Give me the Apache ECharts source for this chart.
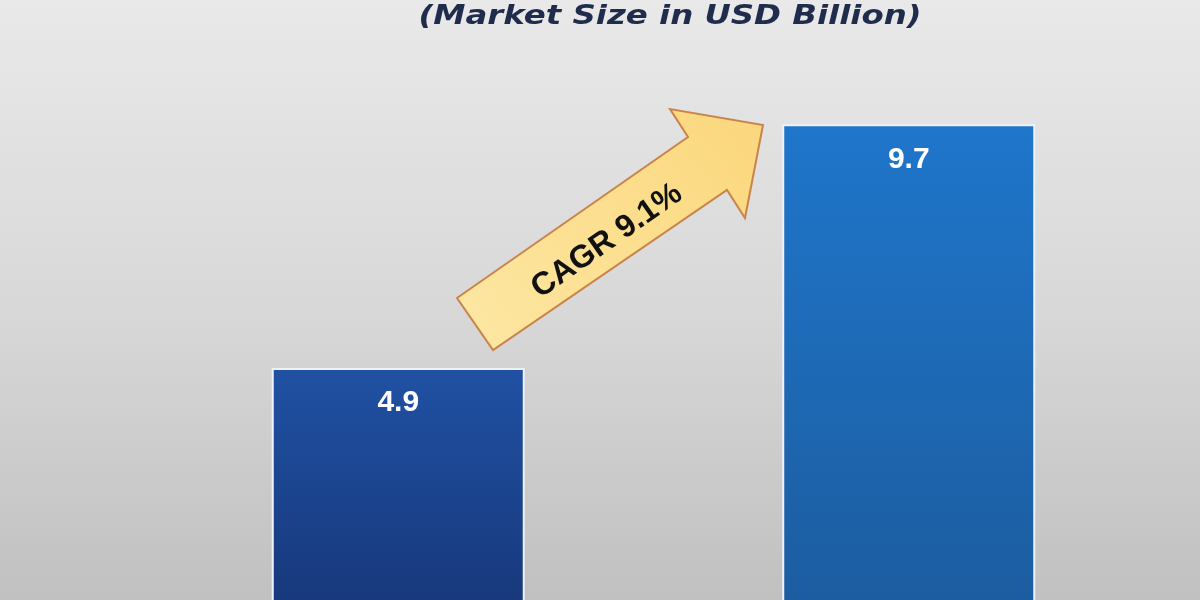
<!DOCTYPE html>
<html>
<head>
<meta charset="utf-8">
<script src="https://cdn.jsdelivr.net/npm/echarts@6/dist/echarts.min.js"></script>
<style>
html,body{margin:0;padding:0;overflow:hidden;}
#chart{width:1200px;height:617px;}
</style>
</head>
<body>
<div id="chart"></div>
<script>
const categories = ['2023', '2032'];
const values = [4.9, 9.7];
const titleText = '(Market Size in USD Billion)';
const cagrText = 'CAGR 9.1%';

const barGradients = [
  ['#2051a3', '#17377a'],
  ['#1f76cb', '#1c5c9f']
];

const chart = echarts.init(document.getElementById('chart'));
const option = {
  animation: false,
  backgroundColor: {
    type: 'linear', x: 0, y: 0, x2: 0, y2: 1,
    colorStops: [
      { offset: 0, color: '#e9e9e9' },
      { offset: 0.5, color: '#d8d8d8' },
      { offset: 1, color: '#bfbfbf' }
    ]
  },
  grid: { left: 143, right: 36, top: 109, bottom: 0 },
  xAxis: {
    type: 'category', data: categories, show: false, boundaryGap: true
  },
  yAxis: { type: 'value', min: 0, max: 10, show: false },
  series: [{
    type: 'bar',
    barWidth: 253,
    data: values.map((v, i) => ({
      value: v,
      itemStyle: {
        color: {
          type: 'linear', x: 0, y: 0, x2: 0, y2: 1,
          colorStops: [
            { offset: 0, color: barGradients[i][0] },
            { offset: 1, color: barGradients[i][1] }
          ]
        }
      }
    })),
    itemStyle: { borderColor: '#eef2f8', borderWidth: 2 },
    label: {
      show: true, position: 'insideTop', distance: 20,
      color: '#ffffff', fontFamily: 'Liberation Sans, Arial, sans-serif',
      fontWeight: 'bold', fontSize: 30,
      formatter: p => p.value.toFixed(1)
    }
  }],
  graphic: [
    {
      type: 'text', x: 670, y: 17, scaleX: 1.2,
      style: {
        text: titleText, x: 0, y: 0,
        textAlign: 'center', textVerticalAlign: 'middle',
        fill: '#1f2c4c',
        font: 'italic bold 27px "DejaVu Sans", sans-serif'
      }
    },
    {
      type: 'polygon',
      shape: { points: [[457, 298], [688, 137], [670, 109], [763, 125], [745, 218], [727, 190], [493, 350]] },
      style: {
        fill: {
          type: 'linear', x: 0, y: 1, x2: 1, y2: 0,
          colorStops: [
            { offset: 0, color: '#fde7a4' },
            { offset: 1, color: '#fbd77c' }
          ]
        },
        stroke: '#c9844a', lineWidth: 2
      }
    },
    {
      type: 'text', x: 607, y: 241, rotation: 35 * Math.PI / 180,
      style: {
        text: cagrText, x: 0, y: 0,
        textAlign: 'center', textVerticalAlign: 'middle',
        fill: '#111111',
        font: 'bold 32px "Liberation Sans", Arial, sans-serif'
      }
    }
  ]
};
chart.setOption(option);
</script>
</body>
</html>
